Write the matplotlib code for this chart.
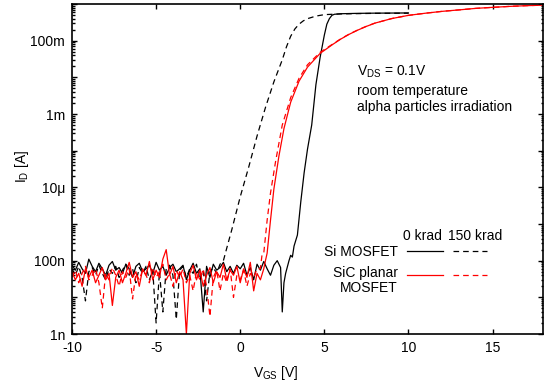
import numpy as np
import matplotlib
matplotlib.use('Agg')
import matplotlib.pyplot as plt
from matplotlib.ticker import FixedLocator, FixedFormatter, LogLocator, NullFormatter

plt.rcParams['font.family'] = ['Liberation Sans', 'DejaVu Sans']
plt.rcParams['font.size'] = 10
plt.rcParams['axes.unicode_minus'] = False
plt.rcParams['mathtext.fontset'] = 'custom'
plt.rcParams['mathtext.rm'] = 'Liberation Sans'
plt.rcParams['mathtext.it'] = 'Liberation Sans:italic'

# --- noise floor below threshold, sampled every 0.2 V (values in nA) ---
si0_noise_nA = [75, 55, 90, 60, 45, 110, 70, 50, 85, 60,
                40, 75, 95, 55, 65, 45, 80, 60, 35, 70,
                85, 50, 60, 75, 45, 90, 55, 70, 40, 65,
                80, 50, 60, 75, 30, 55, 85, 45, 60, 4,
                70, 35, 80, 55, 65, 90, 50, 70, 45, 75,
                60, 85, 40, 65, 30, 80, 55, 95, 60, 40,
                75, 100, 65]                       # -10 .. 2.4 V
si150_noise_nA = [60, 40, 70, 35, 8, 50, 65, 40, 75, 45,
                  30, 60, 45, 70, 35, 55, 80, 40, 60, 25,
                  65, 45, 70, 30, 55, 2, 50, 4, 60, 75,
                  40, 2.5, 55, 70, 35, 60, 45, 80, 30, 55,
                  8, 50, 65, 45]                     # -10 .. -1.4 V
sic0_noise_nA = [50, 30, 45, 20, 60, 35, 55, 25, 40, 65,
                 30, 45, 6, 35, 55, 25, 45, 90, 35, 50,
                 20, 60, 40, 95, 30, 55, 35, 110, 200, 40,
                 70, 25, 50, 30, 1, 45, 75, 30, 55, 20,
                 40, 65, 25, 50, 35, 80, 30, 55, 40, 70,
                 25, 60, 35, 90, 15, 45, 30, 60]     # -10 .. 1.4 V
sic150_noise_nA = [35, 55, 25, 45, 70, 30, 40, 60, 25, 5,
                   45, 30, 65, 40, 20, 50, 35, 60, 9, 45,
                   30, 55, 40, 25, 65, 35, 50, 80, 30, 45,
                   20, 55, 35, 60, 25, 40, 15, 50, 30, 60,
                   20, 3, 35, 55, 15, 45, 25, 60, 10, 40,
                   30, 55, 20, 45, 35, 60]           # -10 .. 1.0 V

# --- turn-on part of the transfer curves (V, A) ---
si0_vgs = [2.5, 2.6, 2.7, 2.9, 3.0, 3.1, 3.2, 3.4, 3.6, 3.8, 4.0, 4.25, 4.5,
           4.75, 5.0, 5.15, 5.3, 5.45, 5.6, 6.0, 7.0, 8.0, 10.0]
si0_id = [4e-9, 2.5e-8, 4.5e-8, 1e-7, 1.4e-7, 1.25e-7, 2.5e-7, 5e-7, 4e-6,
          2.5e-5, 1.1e-4, 5e-4, 6.3e-3, 3.5e-2, 0.141, 0.282, 0.398, 0.49,
          0.525, 0.543, 0.556, 0.563, 0.57]

si150_vgs = [-1.2, -1.0, -0.8, -0.5, 0.0, 0.5, 1.0, 1.5, 2.0, 2.5, 2.75, 3.0,
             3.25, 3.5, 3.75, 4.0, 4.5, 5.0, 6.0, 8.0, 10.0]
si150_id = [8e-8, 1e-7, 2.2e-7, 7e-7, 5.5e-6, 3.5e-5, 2.5e-4, 1.5e-3, 7.5e-3,
            3.0e-2, 6.8e-2, 0.132, 0.209, 0.282, 0.347, 0.398, 0.468, 0.513,
            0.537, 0.556, 0.562]

sic0_vgs = [1.5, 1.6, 1.8, 2.0, 2.3, 2.6, 3.0, 3.5, 4.0, 4.75, 5.5, 6.0, 6.5,
            7.0, 7.5, 8.0, 9.0, 10.0, 11.0, 12.0, 13.0, 14.0, 15.0, 16.0,
            17.0, 18.0]
sic0_id = [1e-7, 1.6e-7, 1.26e-6, 8.9e-6, 7.1e-5, 4e-4, 2.1e-3, 7.9e-3,
           1.9e-2, 4.5e-2, 7.9e-2, 0.112, 0.151, 0.195, 0.245, 0.30, 0.40,
           0.49, 0.56, 0.63, 0.69, 0.76, 0.81, 0.86, 0.90, 0.93]

sic150_vgs = [1.2, 1.3, 1.4, 1.6, 1.8, 2.1, 2.5, 3.0, 3.5, 4.0, 4.75, 5.5,
              6.0, 6.5, 7.0, 7.5, 8.0, 9.0, 10.0, 11.0, 12.0, 13.0, 14.0,
              15.0, 16.0, 17.0, 18.0]
sic150_id = [6e-8, 1.5e-7, 1.6e-7, 1.26e-6, 7e-6, 5e-5, 5e-4, 2.8e-3, 9.5e-3,
             2.2e-2, 4.8e-2, 8.1e-2, 0.114, 0.153, 0.197, 0.247, 0.30, 0.40,
             0.49, 0.56, 0.63, 0.69, 0.76, 0.81, 0.86, 0.90, 0.93]

ytick_vals = [1e-9, 1e-8, 1e-7, 1e-6, 1e-5, 1e-4, 1e-3, 1e-2, 1e-1, 1e0]
ytick_labels = ['1n', '', '100n', '', '10\u03bc', '', '1m', '', '100m', '']


def curve(noise_nA, v_end, vgs, ids):
    v_noise = np.linspace(-10, v_end, len(noise_nA))
    x = np.concatenate([v_noise, vgs])
    y = np.concatenate([np.array(noise_nA) * 1e-9, ids])
    return x, y


fig = plt.figure(figsize=(5.52, 3.91), dpi=100)
ax = fig.add_axes([72/552, 1-334/391, 471/552, 330/391])

dash = (4.5, 3.2)
x, y = curve(si0_noise_nA, 2.4, si0_vgs, si0_id)
ax.plot(x, y, color='black', lw=0.9)
x, y = curve(si150_noise_nA, -1.4, si150_vgs, si150_id)
ax.plot(x, y, color='black', lw=0.9, dashes=dash)
x, y = curve(sic0_noise_nA, 1.4, sic0_vgs, sic0_id)
ax.plot(x, y, color='red', lw=0.9)
x, y = curve(sic150_noise_nA, 1.0, sic150_vgs, sic150_id)
ax.plot(x, y, color='red', lw=0.9, dashes=dash)

ax.set_yscale('log')
ax.set_xlim(-10, 18)
ax.set_ylim(1e-9, 1)
ax.set_xticks([-10, -5, 0, 5, 10, 15])
ax.yaxis.set_major_locator(FixedLocator(ytick_vals))
ax.yaxis.set_major_formatter(FixedFormatter(ytick_labels))
ax.yaxis.set_minor_locator(LogLocator(base=10, subs=np.arange(2, 10), numticks=30))
ax.yaxis.set_minor_formatter(NullFormatter())
ax.tick_params(which='both', direction='in', top=True, right=True, width=1.0)
ax.tick_params(which='major', length=3.5, pad=5, labelsize=10)
ax.tick_params(which='minor', length=1.8)
for s in ax.spines.values():
    s.set_linewidth(1.2)

fig.text(22/552, 1-166/391, r'I$_\mathrm{D}$ [A]', rotation=90, ha='center', va='center')
fig.text(276/552, 1-373/391, r'V$_\mathrm{GS}$ [V]', ha='center', va='center')

# annotation
ax.text(0.605, 0.794, r'V$_\mathrm{DS}$ = 0.1V', transform=ax.transAxes, va='center')
ax.text(0.605, 0.736, 'room temperature', transform=ax.transAxes, va='center')
ax.text(0.605, 0.688, 'alpha particles irradiation', transform=ax.transAxes, va='center')

# hand-made legend
ax.text(0.743, 0.297, '0 krad', transform=ax.transAxes, ha='center', va='center')
ax.text(0.856, 0.297, '150 krad', transform=ax.transAxes, ha='center', va='center')
ax.text(0.692, 0.248, 'Si MOSFET', transform=ax.transAxes, ha='right', va='center')
ax.text(0.692, 0.185, 'SiC planar', transform=ax.transAxes, ha='right', va='center')
ax.text(0.692, 0.139, 'MOSFET', transform=ax.transAxes, ha='right', va='center')
ax.plot([0.711, 0.788], [0.2515, 0.2515], transform=ax.transAxes, color='black', lw=0.9)
ax.plot([0.809, 0.881], [0.2515, 0.2515], transform=ax.transAxes, color='black', lw=0.9, dashes=dash)
ax.plot([0.711, 0.788], [0.179, 0.179], transform=ax.transAxes, color='red', lw=0.9)
ax.plot([0.809, 0.881], [0.179, 0.179], transform=ax.transAxes, color='red', lw=0.9, dashes=dash)

fig.savefig('out.png', dpi=100)
